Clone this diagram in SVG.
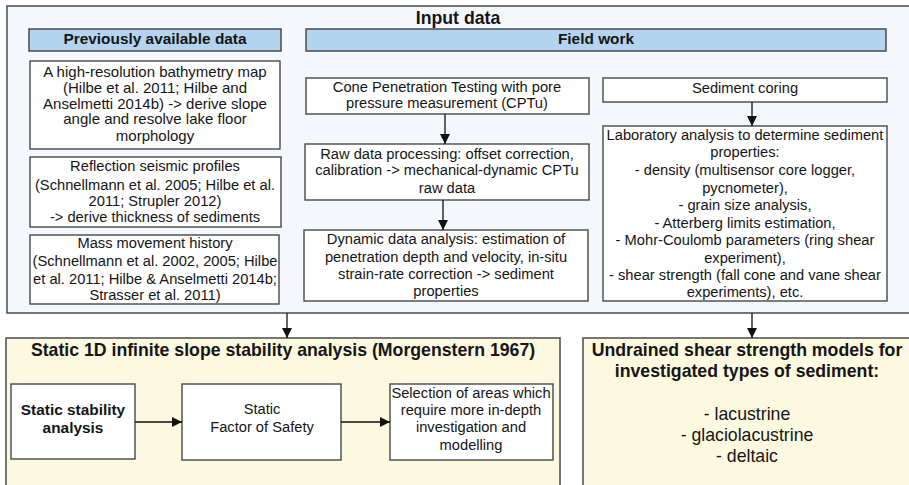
<svg xmlns="http://www.w3.org/2000/svg" width="909" height="485" viewBox="0 0 909 485">
  <style>
    .panel-in { fill: #f4f7fc; stroke: #4a4a4a; stroke-width: 1.5; }
    .panel-out { fill: #fdf9e0; stroke: #4a4a4a; stroke-width: 1.5; }
    .head { fill: #b4d3ef; stroke: #4a4a4a; stroke-width: 1.5; }
    .box { fill: #ffffff; stroke: #3a3a3a; stroke-width: 1.3; }
    text { font-family: "Liberation Sans", Arial, sans-serif; fill: #151515; text-anchor: middle; }
    .t { font-size: 14.7px; }
    .tl { font-size: 15px; }
    .b { font-size: 15.4px; font-weight: bold; }
    .big { font-size: 17.7px; font-weight: bold; }
    .list { font-size: 17.7px; }
    .con { stroke: #111; stroke-width: 1.3; fill: none; marker-end: url(#arr); }
  </style>
  <defs>
    <marker id="arr" viewBox="0 0 10 10" refX="10" refY="5" markerWidth="10" markerHeight="10" markerUnits="userSpaceOnUse" orient="auto">
      <path d="M0,0 L10,5 L0,10 z" fill="#111"/>
    </marker>
  </defs>

  <!-- Input data panel -->
  <g id="input-data">
    <rect class="panel-in" x="7" y="6" width="910" height="307"/>
    <text class="big" x="458" y="23.5">Input data</text>
  </g>

  <g id="prev-header">
    <rect class="head" x="29" y="29" width="252" height="22"/>
    <text class="b" x="155" y="44">Previously available data</text>
  </g>
  <g id="field-header">
    <rect class="head" x="306" y="29" width="580" height="22"/>
    <text class="b" x="596" y="44">Field work</text>
  </g>

  <g id="bathymetry">
    <rect class="box" x="30" y="61" width="250" height="88"/>
    <text class="tl" x="155" y="76.5">A high-resolution bathymetry map</text>
    <text class="tl" x="155" y="93">(Hilbe et al. 2011; Hilbe and</text>
    <text class="tl" x="155" y="108.5">Anselmetti 2014b) -&gt; derive slope</text>
    <text class="tl" x="155" y="124">angle and resolve lake floor</text>
    <text class="tl" x="155" y="141">morphology</text>
  </g>

  <g id="seismic">
    <rect class="box" x="30" y="157" width="251" height="70"/>
    <text class="t" x="155" y="171">Reflection seismic profiles</text>
    <text class="t" x="155" y="190">(Schnellmann et al. 2005; Hilbe et al.</text>
    <text class="t" x="155" y="206">2011; Strupler 2012)</text>
    <text class="t" x="155" y="222">-&gt; derive thickness of sediments</text>
  </g>

  <g id="mass-movement">
    <rect class="box" x="30" y="235" width="249" height="69"/>
    <text class="t" x="155" y="248">Mass movement history</text>
    <text class="t" x="155" y="266">(Schnellmann et al. 2002, 2005; Hilbe</text>
    <text class="t" x="155" y="284">et al. 2011; Hilbe &amp; Anselmetti 2014b;</text>
    <text class="t" x="155" y="300">Strasser et al. 2011)</text>
  </g>

  <g id="cptu">
    <rect class="box" x="306" y="78" width="283" height="36"/>
    <text class="t" x="447" y="92">Cone Penetration Testing with pore</text>
    <text class="t" x="447" y="108">pressure measurement (CPTu)</text>
  </g>

  <g id="raw-processing">
    <rect class="box" x="305" y="144" width="284" height="56"/>
    <text class="t" x="447" y="159">Raw data processing: offset correction,</text>
    <text class="t" x="447" y="175">calibration -&gt; mechanical-dynamic CPTu</text>
    <text class="t" x="447" y="193">raw data</text>
  </g>

  <g id="dynamic-analysis">
    <rect class="box" x="304" y="230" width="284" height="71"/>
    <text class="t" x="446" y="244">Dynamic data analysis: estimation of</text>
    <text class="t" x="446" y="262">penetration depth and velocity, in-situ</text>
    <text class="t" x="446" y="279">strain-rate correction -&gt; sediment</text>
    <text class="t" x="446" y="296">properties</text>
  </g>

  <g id="coring">
    <rect class="box" x="603" y="78" width="284" height="24"/>
    <text class="t" x="745" y="93">Sediment coring</text>
  </g>

  <g id="laboratory">
    <rect class="box" x="603" y="126" width="284" height="175"/>
    <text class="t" x="745" y="140">Laboratory analysis to determine sediment</text>
    <text class="t" x="745" y="157">properties:</text>
    <text class="t" x="745" y="175">- density (multisensor core logger,</text>
    <text class="t" x="745" y="193">pycnometer),</text>
    <text class="t" x="745" y="210">- grain size analysis,</text>
    <text class="t" x="745" y="228">- Atterberg limits estimation,</text>
    <text class="t" x="745" y="245">- Mohr-Coulomb parameters (ring shear</text>
    <text class="t" x="745" y="263">experiment),</text>
    <text class="t" x="745" y="280">- shear strength (fall cone and vane shear</text>
    <text class="t" x="745" y="297">experiments), etc.</text>
  </g>

  <!-- Slope stability panel -->
  <g id="slope-stability">
    <rect class="panel-out" x="6" y="338" width="554" height="160"/>
    <text class="big" x="283" y="356">Static 1D infinite slope stability analysis (Morgenstern 1967)</text>
  </g>

  <g id="static-analysis">
    <rect class="box" x="11" y="384" width="124" height="75"/>
    <text class="b" x="73" y="415">Static stability</text>
    <text class="b" x="73" y="433">analysis</text>
  </g>

  <g id="factor-of-safety">
    <rect class="box" x="182" y="384" width="159" height="76"/>
    <text class="t" x="262" y="414">Static</text>
    <text class="t" x="262" y="432">Factor of Safety</text>
  </g>

  <g id="selection">
    <rect class="box" x="390" y="384" width="163" height="76"/>
    <text class="t" x="471" y="398">Selection of areas which</text>
    <text class="t" x="471" y="415">require more in-depth</text>
    <text class="t" x="471" y="432">investigation and</text>
    <text class="t" x="471" y="450">modelling</text>
  </g>

  <!-- Shear strength models panel -->
  <g id="shear-models">
    <rect class="panel-out" x="583" y="338" width="340" height="160"/>
    <text class="big" x="747" y="356">Undrained shear strength models for</text>
    <text class="big" x="747" y="377">investigated types of sediment:</text>
    <text class="list" x="747" y="420">- lacustrine</text>
    <text class="list" x="747" y="441">- glaciolacustrine</text>
    <text class="list" x="747" y="462">- deltaic</text>
  </g>

  <g id="connectors">
    <line class="con" x1="445" y1="114" x2="445" y2="144"/>
    <line class="con" x1="443" y1="200" x2="443" y2="230"/>
    <line class="con" x1="752" y1="102" x2="752" y2="126"/>
    <line class="con" x1="287" y1="313" x2="287" y2="338"/>
    <line class="con" x1="752" y1="313" x2="752" y2="338"/>
    <line class="con" x1="135" y1="422" x2="182" y2="422"/>
    <line class="con" x1="341" y1="422" x2="390" y2="422"/>
  </g>
</svg>
